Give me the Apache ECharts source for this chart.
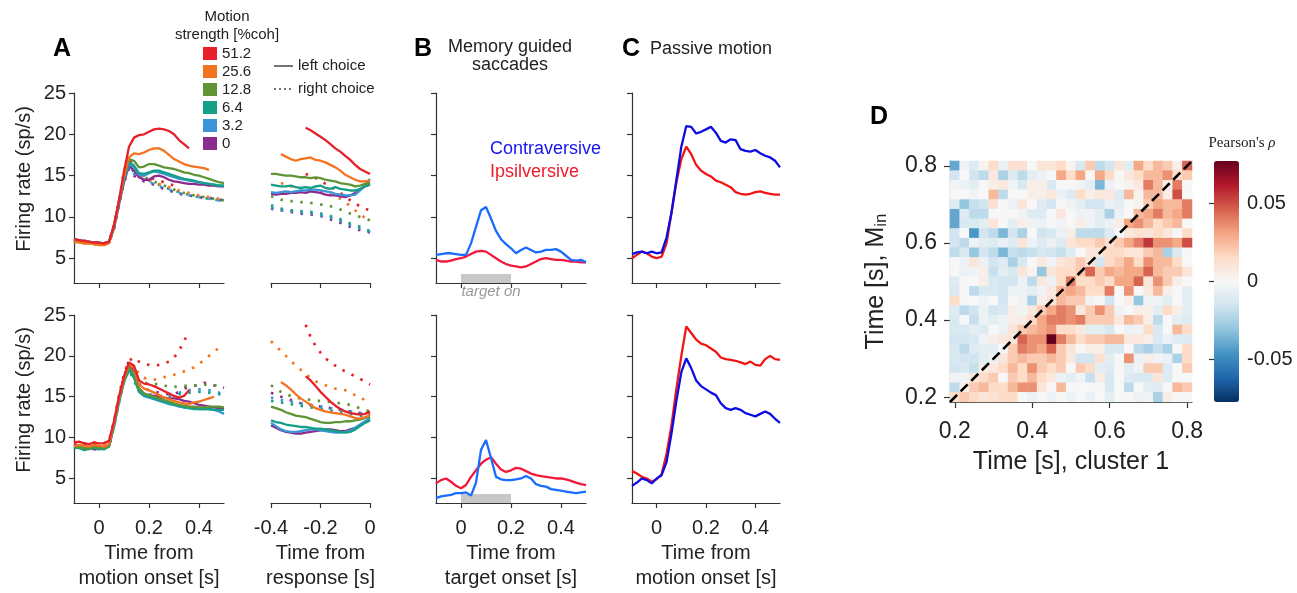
<!DOCTYPE html>
<html>
<head>
<meta charset="utf-8">
<script src="https://cdn.jsdelivr.net/npm/echarts@6/dist/echarts.min.js"></script>
<style>html,body{margin:0;background:#fff}#chart{width:1297px;height:593px}</style>
</head>
<body>
<div id="chart"></div>
<script>
// time bases (s)
const tEvent = [-0.1,-0.08,-0.06,-0.04,-0.02,0,0.02,0.04,0.06,0.08,0.1,0.12,0.14,0.16,0.18,0.2,0.22,0.24,0.26,0.28,0.3,0.32,0.34,0.36,0.38,0.4,0.42,0.44,0.46,0.48,0.5];
const tResp = [-0.4,-0.38,-0.36,-0.34,-0.32,-0.3,-0.28,-0.26,-0.24,-0.22,-0.2,-0.18,-0.16,-0.14,-0.12,-0.1,-0.08,-0.06,-0.04,-0.02,0];
const rateTicks = [5,10,15,20,25];
const motionTicks = [0,0.2,0.4];
const respTicks = [-0.4,-0.2,0];

const cohLabels = ['51.2','25.6','12.8','6.4','3.2','0'];
const cohColors = ['#e8202a','#f47321','#5f9537','#13a086','#3a96d8','#8b2b8e'];

// panel A, top row, motion aligned (order = cohLabels)
const topMotionLeft = [
  [7.3,7.2,7.1,7.0,6.9,6.9,6.8,7.0,9.0,12.0,15.5,18.5,19.6,19.9,20.0,20.3,20.6,20.7,20.6,20.4,20.0,19.3,18.8,18.3,null,null,null,null,null,null,null],
  [7.0,6.9,6.8,6.8,6.7,6.6,6.6,6.8,9.0,12.0,15.0,17.2,17.7,17.6,17.8,18.1,18.3,18.3,18.0,17.5,17.0,16.7,16.4,16.2,16.1,16.0,15.9,15.7,null,null,null],
  [7.1,7.0,6.9,6.8,6.8,6.8,6.8,6.9,8.8,12.0,14.8,17.0,16.8,16.0,16.1,16.4,16.4,16.2,16.0,15.9,15.8,15.6,15.4,15.3,15.1,15.0,14.8,14.6,14.4,14.2,14.1],
  [7.2,7.1,7.0,6.9,6.8,6.8,6.8,6.9,8.8,11.8,14.6,16.7,16.2,15.3,15.2,15.4,15.6,15.6,15.4,15.2,15.0,14.8,14.6,14.5,14.4,14.2,14.1,14.0,13.9,13.8,13.8],
  [7.3,7.2,7.1,7.0,6.9,6.9,6.8,7.0,8.9,11.8,14.5,16.4,16.0,15.1,15.0,15.3,15.5,15.4,15.2,15.0,14.8,14.6,14.5,14.4,14.3,14.2,14.1,14.0,13.9,13.8,13.7],
  [7.2,7.1,7.0,6.9,6.8,6.8,6.7,6.9,8.6,11.5,14.2,16.2,15.6,14.8,14.5,14.5,14.9,15.0,14.8,14.5,14.3,14.2,14.1,14.0,14.0,13.9,13.9,13.8,13.8,13.7,13.7]
];
const topMotionRight = [
  [7.3,7.2,7.1,7.0,6.9,6.9,6.8,7.0,9.0,12.0,15.5,17.5,15.8,15.3,15.0,14.8,14.6,14.4,14.2,14.0,13.8,13.5,null,null,null,null,null,null,null,null,null],
  [7.0,6.9,6.8,6.8,6.7,6.6,6.6,6.8,9.0,12.0,15.0,16.8,15.6,15.0,14.7,14.5,14.3,14.0,13.8,13.6,13.4,13.2,13.0,12.9,12.7,12.6,12.5,12.4,12.3,12.2,12.2],
  [7.1,7.0,6.9,6.8,6.8,6.8,6.8,6.9,8.8,12.0,14.8,16.5,15.6,15.0,14.8,14.6,14.3,14.0,13.8,13.6,13.3,13.1,12.9,12.8,12.6,12.5,12.4,12.3,12.2,12.1,12.0],
  [7.2,7.1,7.0,6.9,6.8,6.8,6.8,6.9,8.8,11.8,14.6,16.2,15.4,14.9,14.6,14.4,14.1,13.9,13.6,13.4,13.2,13.0,12.8,12.7,12.5,12.4,12.3,12.2,12.1,12.0,12.0],
  [7.3,7.2,7.1,7.0,6.9,6.9,6.8,7.0,8.9,11.8,14.5,16.0,15.2,14.8,14.5,14.2,14.0,13.7,13.5,13.3,13.1,12.9,12.7,12.6,12.5,12.4,12.3,12.2,12.1,12.0,11.9],
  [7.2,7.1,7.0,6.9,6.8,6.8,6.7,6.9,8.6,11.5,14.2,15.8,15.0,14.6,14.3,14.1,13.9,13.6,13.4,13.2,13.0,12.8,12.7,12.6,12.5,12.4,12.3,12.3,12.2,12.1,12.0]
];
// panel A, top row, response aligned
const topRespLeft = [
  [null,null,null,null,null,null,null,20.8,20.5,20.1,19.7,19.3,18.8,18.3,17.9,17.4,16.9,16.3,15.8,15.5,15.2],
  [null,null,17.6,17.3,17.0,16.8,17.0,17.1,17.2,16.9,16.8,16.6,16.3,16.0,15.6,15.1,14.8,14.5,14.3,14.3,14.4],
  [15.2,15.2,15.1,15.0,15.0,14.9,14.8,14.8,14.7,14.8,14.7,14.5,14.4,14.3,14.1,14.0,13.9,13.7,13.8,14.0,14.2],
  [13.9,13.8,13.7,13.7,13.8,13.6,13.5,13.6,13.5,13.7,13.8,13.5,13.4,13.6,13.4,13.3,13.2,13.2,13.4,13.7,14.0],
  [13.0,12.9,13.0,13.1,13.0,13.1,13.2,13.2,13.3,13.3,13.2,13.1,13.0,12.8,12.7,12.6,12.6,12.7,13.2,13.9,14.6],
  [12.8,12.7,12.8,12.8,12.9,12.9,13.0,12.9,13.1,13.0,12.9,12.7,12.6,12.6,12.5,12.4,12.6,12.9,13.3,13.7,13.9]
];
const topRespRight = [
  [null,null,null,null,null,null,null,15.2,15.0,14.7,14.4,14.0,13.7,13.3,12.9,12.5,12.0,11.6,11.3,11.0,10.8],
  [null,null,14.1,13.9,13.7,13.6,13.5,13.4,13.3,13.1,13.0,12.9,12.7,12.5,12.2,11.8,11.3,10.8,10.3,9.9,9.5],
  [12.5,12.3,12.1,12.0,11.9,11.9,11.8,11.8,11.7,11.6,11.5,11.4,11.3,11.1,10.9,10.7,10.4,10.2,10.0,9.8,9.6],
  [11.4,11.2,11.0,10.9,10.8,10.8,10.7,10.6,10.6,10.5,10.4,10.3,10.1,9.9,9.7,9.5,9.2,9.0,8.8,8.5,8.3],
  [11.1,10.9,10.8,10.7,10.7,10.6,10.5,10.4,10.4,10.3,10.2,10.0,9.9,9.7,9.5,9.3,9.0,8.8,8.6,8.4,8.2],
  [11.0,10.9,10.8,10.7,10.6,10.5,10.4,10.3,10.3,10.2,10.1,9.9,9.7,9.5,9.3,9.0,8.8,8.6,8.4,8.3,8.1]
];
// panel A, bottom row
const botMotionLeft = [
  [9.4,9.5,9.3,9.2,9.4,9.3,9.3,9.6,12.0,15.0,17.5,19.2,18.8,17.0,16.6,16.5,16.3,16.0,15.7,15.4,15.1,14.9,15.1,15.8,null,null,null,null,null,null,null],
  [9.0,9.1,9.0,8.9,9.1,9.0,8.9,9.2,11.8,14.8,17.3,19.0,18.5,16.5,16.0,15.8,15.5,15.2,14.9,14.7,14.5,14.3,14.2,14.1,14.3,14.4,14.6,14.8,15.0,null,null],
  [8.9,8.8,8.7,8.7,8.8,8.8,8.7,9.0,11.6,14.6,17.0,18.6,17.8,16.0,15.4,15.2,15.0,14.8,14.6,14.4,14.2,14.0,13.9,13.8,13.8,13.7,13.7,13.8,13.8,13.8,13.7],
  [8.8,8.7,8.5,8.6,8.7,8.6,8.6,8.9,11.5,14.5,16.8,18.3,17.3,15.6,15.1,15.0,14.8,14.6,14.4,14.2,14.0,13.9,13.7,13.6,13.5,13.5,13.5,13.5,13.4,13.4,13.4],
  [9.0,8.9,8.8,8.8,8.9,8.8,8.7,8.9,11.3,14.3,16.9,18.4,17.5,15.7,15.1,14.9,14.7,14.5,14.3,14.1,14.0,13.8,13.7,13.6,13.6,13.5,13.5,13.5,13.4,13.2,12.9],
  [9.2,9.0,8.9,8.8,8.6,8.6,8.7,9.0,11.7,14.8,17.4,19.0,18.0,16.0,15.4,15.2,15.1,15.0,14.9,14.8,14.8,14.7,14.5,14.4,14.2,14.0,13.9,13.8,13.7,13.6,13.5]
];
const botMotionRight = [
  [9.4,9.5,9.3,9.2,9.4,9.3,9.3,9.6,12.0,15.2,17.8,19.4,19.8,19.3,19.0,18.9,18.8,18.9,19.1,19.3,19.8,20.6,21.8,23.0,null,null,null,null,null,null,null],
  [9.0,9.1,9.0,8.9,9.1,9.0,8.9,9.2,11.8,14.8,17.3,19.0,18.8,17.8,17.3,17.2,17.1,17.2,17.4,17.5,17.7,17.9,18.1,18.3,18.6,19.0,19.5,20.0,20.5,21.0,null],
  [8.9,8.8,8.7,8.7,8.8,8.8,8.7,9.0,11.6,14.6,17.0,18.6,17.8,17.0,16.7,16.6,16.5,16.6,16.4,16.2,16.2,16.3,16.3,16.4,16.4,16.4,16.5,16.4,16.4,16.4,16.3],
  [8.8,8.7,8.5,8.6,8.7,8.6,8.6,8.9,11.5,14.5,16.8,18.3,17.0,15.7,15.3,15.1,15.0,15.0,15.0,15.1,15.2,15.3,15.4,15.5,15.5,15.6,15.6,15.5,15.4,15.3,15.2],
  [9.0,8.9,8.8,8.8,8.9,8.8,8.7,8.9,11.3,14.3,16.9,18.4,17.2,15.9,15.5,15.3,15.2,15.1,15.2,15.3,15.4,15.5,15.6,15.8,15.8,15.9,15.9,15.8,15.7,15.5,15.2],
  [9.2,9.0,8.9,8.8,8.6,8.6,8.7,9.0,11.7,14.8,17.4,19.5,18.2,16.6,16.0,15.8,15.6,15.5,15.4,15.3,15.3,15.6,16.0,16.2,16.3,16.5,16.7,16.6,16.4,16.3,16.1]
];
const botRespLeft = [
  [null,null,null,null,null,null,null,17.5,17.0,16.3,15.6,15.0,14.4,13.9,13.5,13.2,13.0,12.9,12.8,12.9,13.2],
  [null,null,16.8,16.4,15.9,15.3,14.8,14.4,14.0,13.6,13.4,13.2,13.1,13.0,12.9,12.8,12.6,12.4,12.3,12.5,12.8],
  [13.8,13.6,13.4,13.1,12.9,12.7,12.6,12.5,12.3,12.1,11.9,11.8,11.8,11.9,11.9,12.0,12.0,12.1,12.2,12.4,12.6],
  [12.1,11.9,11.8,11.6,11.5,11.4,11.3,11.3,11.2,11.1,11.1,11.0,10.9,10.8,10.7,10.6,10.7,11.0,11.4,11.8,12.1],
  [11.8,11.4,11.0,10.8,10.7,10.7,10.8,10.9,11.0,11.0,10.9,10.8,10.7,10.6,10.6,10.7,10.9,11.2,11.6,12.0,12.4],
  [11.5,11.2,10.9,10.7,10.6,10.5,10.5,10.6,10.7,10.8,10.9,11.0,11.0,10.9,10.8,10.8,11.0,11.2,11.5,11.9,12.2]
];
const botRespRight = [
  [null,null,null,null,null,null,null,23.8,22.3,21.2,20.4,19.7,19.2,18.8,18.4,18.1,17.8,17.5,17.2,16.8,16.5],
  [21.8,21.2,20.6,20.0,19.4,18.8,18.3,17.8,17.3,16.9,16.6,16.4,16.2,16.0,15.9,15.8,15.5,15.2,14.9,14.6,14.3],
  [16.4,16.0,15.6,15.3,15.1,14.9,14.8,14.7,14.6,14.5,14.5,14.4,14.4,14.3,14.2,14.1,14.0,13.8,13.6,13.4,13.2],
  [14.5,14.4,14.3,14.2,14.1,14.0,13.9,13.8,13.7,13.6,13.5,13.4,13.3,13.2,13.1,13.0,12.9,12.8,12.7,12.7,12.6],
  [14.9,14.7,14.6,14.5,14.4,14.3,14.2,14.1,14.0,13.9,13.8,13.7,13.6,13.5,13.4,13.3,13.2,13.1,13.0,12.9,12.8],
  [15.5,15.2,15.0,14.8,14.6,14.4,14.2,14.1,14.0,13.9,13.8,13.7,13.6,13.5,13.4,13.3,13.2,13.1,13.0,12.9,12.9]
];

// panel B (memory guided saccades) and C (passive motion)
const memContraTop = [5.4,5.5,5.6,5.6,5.5,5.4,5.4,6.8,8.8,10.8,11.2,9.8,8.3,7.3,6.7,6.2,5.6,6.0,6.3,6.0,5.7,5.8,6.0,6.0,6.1,5.8,5.3,4.8,4.7,4.8,4.5];
const memIpsiTop   = [4.8,4.6,4.6,4.7,4.9,5.0,5.2,5.5,5.8,5.9,5.8,5.4,5.0,4.6,4.3,4.1,4.0,3.9,4.0,4.3,4.6,4.9,5.0,4.9,4.8,4.8,4.7,4.6,4.6,4.5,4.5];
const memContraBot = [2.6,2.8,2.9,3.0,3.2,3.2,3.3,2.9,4.5,8.5,9.7,7.5,5.2,4.9,4.8,4.8,4.9,5.0,5.3,5.0,4.3,4.1,4.0,3.7,3.6,3.5,3.4,3.3,3.2,3.3,3.4];
const memIpsiBot   = [4.4,4.8,5.0,4.6,4.1,3.8,4.2,5.2,6.0,6.8,7.3,7.6,6.8,6.1,5.8,6.0,6.3,6.2,5.9,5.6,5.4,5.3,5.2,5.1,5.0,5.0,4.9,4.7,4.5,4.3,4.2];
const pasContraTop = [5.5,5.7,5.8,5.6,5.8,5.6,5.7,7.5,10.5,14.5,18.5,21.0,20.9,20.1,20.3,20.6,20.9,20.2,19.2,19.0,19.4,19.3,18.2,18.0,17.9,18.1,17.7,17.4,17.2,16.8,16.0];
const pasIpsiTop   = [5.0,5.4,5.8,5.6,5.2,5.0,5.2,6.8,10.5,14.2,17.0,18.5,17.6,16.3,15.6,15.2,14.9,14.4,14.2,13.9,13.6,13.0,12.8,12.7,12.8,13.0,13.1,12.9,12.8,12.7,12.7];
const pasContraBot = [4.1,4.5,5.0,4.8,4.4,5.0,5.4,7.0,10.5,14.5,18.0,19.7,18.5,17.0,16.3,15.9,15.5,15.2,14.2,13.6,13.4,13.6,13.4,13.0,12.8,12.6,12.9,13.2,12.9,12.3,11.8];
const pasIpsiBot   = [5.9,5.6,5.2,5.0,4.6,4.9,5.5,8.0,11.5,16.0,20.0,23.6,22.8,22.0,21.5,21.3,20.9,20.5,19.8,19.6,19.5,19.4,19.2,19.0,19.3,18.9,18.8,19.6,20.0,19.6,19.5];
const targetOn = [0, 0.2];       // target presentation window (s)
const targetBar = [2, 3.1];      // drawn height of the grey bar (sp/s)

// panel D, correlation map, rows listed from 0.8 (top) down to 0.2
const heatTimes = [0.2,0.225,0.25,0.275,0.3,0.325,0.35,0.375,0.4,0.425,0.45,0.475,0.5,0.525,0.55,0.575,0.6,0.625,0.65,0.675,0.7,0.725,0.75,0.775,0.8];
const rho = [
  [-0.04,-0.003,-0.01,0.002,0.015,-0.005,0.012,0.012,0,0.01,0.01,0.015,0.002,-0.012,0.02,-0.02,-0.015,0.01,-0.008,0.03,0.015,0.025,0.02,0.005,0.045],
  [-0.015,0,-0.015,-0.02,0.008,-0.025,-0.01,-0.02,-0.008,-0.005,0,0.03,0.015,0.03,0,0.03,0.015,0,0.008,0.015,0.025,0.025,0.035,0.015,0.02],
  [-0.003,-0.005,-0.008,0,0.005,0.008,-0.003,-0.012,0.005,0.005,-0.012,0,0,-0.003,-0.008,-0.035,-0.005,0,0.003,0.008,0.04,0.025,0.005,0.04,0],
  [0,0,-0.003,0,0.025,-0.02,0,0,0.005,0.005,0.008,-0.005,-0.01,0.015,0.005,0.008,0.008,-0.01,0.025,0.003,0.025,0.025,0.005,0.05,0],
  [-0.01,-0.03,-0.018,-0.015,0.012,0,-0.005,0.01,0,-0.01,-0.015,0,-0.003,-0.008,-0.015,-0.015,-0.005,-0.008,0,0.003,0.02,0.03,0.025,0.025,0.04],
  [-0.04,-0.01,-0.02,-0.02,0,0,0,-0.003,-0.01,-0.01,0,0.008,0,-0.005,-0.003,-0.008,-0.025,-0.005,0,0.025,0.03,0.04,0.025,0.03,0.04],
  [-0.04,-0.012,-0.012,-0.008,0.01,0,-0.008,0.005,-0.003,-0.005,0,-0.003,0,0.005,-0.003,-0.008,-0.005,0.005,0.03,0.035,0.025,0.015,0.02,0.025,0],
  [-0.015,0,-0.045,-0.015,-0.02,-0.035,-0.015,-0.025,0,-0.015,-0.012,-0.005,0.005,-0.02,-0.02,-0.02,-0.01,0,0.008,0.012,0.01,0.015,0.008,0,0.015],
  [-0.015,-0.02,-0.003,-0.008,-0.01,-0.005,-0.01,0.01,-0.003,-0.01,-0.005,-0.01,0.01,0.015,0.015,0.02,0.012,0.02,0.03,0.04,0.055,0.035,0.035,0.03,0.05],
  [-0.02,-0.012,-0.03,-0.015,-0.02,-0.035,-0.018,-0.02,-0.018,-0.012,-0.015,-0.018,-0.01,0,0.008,0.01,0.015,0.015,0.01,0.01,0.02,0.025,-0.025,-0.01,0],
  [0,-0.005,0.01,-0.005,-0.015,-0.01,-0.025,-0.012,0,0.008,-0.003,0.01,0.012,0.02,0.01,-0.015,0.015,0.02,0.03,0.015,0.035,0.025,0.025,0.015,0],
  [0,-0.005,-0.003,0.005,-0.018,-0.008,-0.012,0.01,0.003,-0.03,0.01,0.015,0.015,0.02,0.045,0.02,0.03,0.025,0.03,0.03,0.045,0.025,0.02,0.02,0.01],
  [-0.01,0,0,0.005,-0.012,-0.015,-0.015,-0.005,-0.02,0.008,-0.005,0.015,0.04,0.015,0.015,0.02,0.015,0.03,0.03,0.045,0.01,0.035,0.02,0.005,0],
  [-0.012,0,-0.02,-0.012,-0.012,-0.015,-0.005,-0.005,-0.008,-0.003,0.008,0.025,0.03,0.025,0.015,0.015,0.04,0,0.035,0,0.008,0.025,0.005,0,-0.008],
  [0.015,0,0,-0.003,0,-0.015,0,-0.003,-0.025,0.005,0.01,0.025,0.02,0.02,-0.003,0,-0.015,0,0.005,-0.03,-0.003,-0.003,-0.008,0,-0.008],
  [-0.01,-0.02,-0.015,-0.005,-0.015,-0.012,0.005,-0.002,0.008,0.02,0.03,0.04,0.035,0.008,0.02,0.035,0.02,-0.003,0,0.005,0.005,-0.008,0.015,0.005,-0.008],
  [-0.012,0,-0.018,-0.005,-0.008,-0.005,0.005,0.005,0.015,0.03,0.04,0.04,0.035,0.04,0.02,0.02,0.02,0.008,0.025,0.02,0.005,-0.02,0,-0.008,-0.01],
  [-0.012,-0.012,-0.008,-0.01,0,-0.005,0.01,0.02,0.025,0.03,0.035,0.015,0.015,0.008,-0.008,-0.008,-0.012,0,-0.005,-0.003,0.015,-0.012,0,0.025,0.015],
  [-0.015,-0.015,-0.012,-0.003,0.005,0.008,0.01,0.045,0.035,0.035,0.077,0.04,0.025,0.015,0.02,0.02,0.025,0.025,0.008,0.008,0.005,-0.012,-0.005,-0.01,-0.01],
  [-0.012,-0.02,-0.01,-0.008,-0.008,0,0.02,0.04,0.035,0.03,0.045,0.02,0.01,0,0.005,0.005,-0.012,-0.012,0,-0.02,-0.025,-0.018,-0.025,0,0.015],
  [-0.012,-0.015,-0.015,-0.008,-0.005,0.01,0.02,0.025,0.02,0.02,0.025,0.02,0.008,-0.015,-0.015,0.012,-0.008,0,0.035,-0.005,0.005,-0.003,-0.005,-0.025,0.015],
  [-0.015,-0.012,-0.018,0.005,0.008,0.015,0.025,0.015,0.035,0.02,0.015,0.02,0,0.02,0.015,-0.008,-0.01,0,-0.008,-0.003,0.02,0.02,-0.01,0,0.02],
  [-0.003,-0.003,0.01,0.015,0.02,0,0.02,0.015,0.025,0.015,0.008,-0.005,-0.008,-0.003,-0.018,0.005,-0.012,0,-0.01,-0.012,-0.012,0.01,-0.01,0,0],
  [-0.02,0.005,0.02,0.025,0.015,0.015,0.025,0.035,0.035,0.01,0,0.025,0,0,0,0,-0.012,0,-0.02,0,-0.008,-0.01,0,0.025,0.02],
  [0.015,0.02,0.015,0.01,0.012,0.015,0.015,0,-0.005,0,-0.005,0,-0.005,0,-0.005,0,-0.008,0,0,-0.005,-0.003,-0.025,0.005,0,0]
];
const rhoRange = [-0.077, 0.077];
const rhoTicks = [-0.05, 0, 0.05];
const diagonal = [0.1875, 0.8125];
const rdbu = ['#053061','#2166ac','#4393c3','#92c5de','#d1e5f0','#f7f7f7','#fddbc7','#f4a582','#d6604d','#b2182b','#67001f'];

const FONT = "'Liberation Sans', Arial, sans-serif";
const INK = '#222';
const axisColor = '#333';
const fmt = v => v === 0 ? '0' : String(+v.toFixed(2));

const grids = [], xAxes = [], yAxes = [], series = [];

function panel(left, top, width, o) {
  const i = grids.length;
  grids.push({left: left, top: top, width: width, height: o.h});
  xAxes.push({
    gridIndex: i, type: 'value', min: o.xmin, max: o.xmax,
    axisLine: {show: true, onZero: false, lineStyle: {color: axisColor, width: 1.2}},
    axisTick: {show: true, length: 5, customValues: o.xticks, lineStyle: {color: axisColor, width: 1.2}},
    axisLabel: {show: !!o.xName, customValues: o.xticks, formatter: fmt, fontSize: 20, color: INK, fontFamily: FONT, margin: 15},
    splitLine: {show: false},
    name: o.xName || '', nameLocation: 'middle', nameGap: 38,
    nameTextStyle: {fontSize: 20, lineHeight: 25, color: INK, fontFamily: FONT}
  });
  yAxes.push({
    gridIndex: i, type: 'value', min: 2, max: 25,
    axisLine: {show: o.yLine, onZero: false, lineStyle: {color: axisColor, width: 1.2}},
    axisTick: {show: o.yLine, length: 5, customValues: rateTicks, lineStyle: {color: axisColor, width: 1.2}},
    axisLabel: {show: !!o.yName, customValues: rateTicks, fontSize: 20, color: INK, fontFamily: FONT, margin: 8},
    splitLine: {show: false},
    name: o.yName || '', nameLocation: 'middle', nameGap: 40,
    nameTextStyle: {fontSize: 20, color: INK, fontFamily: FONT, padding: [0, 0, 0, 18]}
  });
  return i;
}

function pairs(ts, vals) {
  return ts.map((t, j) => [t, vals[j] == null ? '-' : vals[j]]);
}

function cohLines(gi, ts, sets, dotted) {
  for (let k = sets.length - 1; k >= 0; k--) {
    series.push({
      type: 'line', name: cohLabels[k], xAxisIndex: gi, yAxisIndex: gi,
      data: pairs(ts, sets[k]), symbol: 'none', z: dotted ? 2 : 3,
      itemStyle: {color: cohColors[k]},
      lineStyle: {color: cohColors[k], width: dotted ? 2.7 : 2.3, type: dotted ? [2.5, 7.5] : 'solid'}
    });
  }
}

function pairLines(gi, contra, ipsi, cColor, iColor, bar) {
  const s = {
    type: 'line', name: 'Ipsilversive', xAxisIndex: gi, yAxisIndex: gi,
    data: pairs(tEvent, ipsi), symbol: 'none',
    itemStyle: {color: iColor}, lineStyle: {color: iColor, width: 2.3}
  };
  if (bar) {
    s.markArea = {silent: true, itemStyle: {color: '#c8c8c8'},
      data: [[{coord: [targetOn[0], targetBar[0]]}, {coord: [targetOn[1], targetBar[1]]}]]};
  }
  series.push(s);
  series.push({
    type: 'line', name: 'Contraversive', xAxisIndex: gi, yAxisIndex: gi,
    data: pairs(tEvent, contra), symbol: 'none',
    itemStyle: {color: cColor}, lineStyle: {color: cColor, width: 2.3}
  });
}

const rowTop = 93, rowBot = 315, hTop = 190, hBot = 188;
const motionX = {xmin: -0.1, xmax: 0.5, xticks: motionTicks};
const respX = {xmin: -0.4, xmax: 0, xticks: respTicks};

const gA1 = panel(74, rowTop, 150, Object.assign({h: hTop, yLine: true, yName: 'Firing rate (sp/s)'}, motionX));
const gA2 = panel(271, rowTop, 99, Object.assign({h: hTop, yLine: false}, respX));
const gB1 = panel(436, rowTop, 150, Object.assign({h: hTop, yLine: true}, motionX));
const gC1 = panel(632, rowTop, 148, Object.assign({h: hTop, yLine: true}, motionX));
const gA3 = panel(74, rowBot, 150, Object.assign({h: hBot, yLine: true, yName: 'Firing rate (sp/s)', xName: 'Time from\nmotion onset [s]'}, motionX));
const gA4 = panel(271, rowBot, 99, Object.assign({h: hBot, yLine: false, xName: 'Time from\nresponse [s]'}, respX));
const gB2 = panel(436, rowBot, 150, Object.assign({h: hBot, yLine: true, xName: 'Time from\ntarget onset [s]'}, motionX));
const gC2 = panel(632, rowBot, 148, Object.assign({h: hBot, yLine: true, xName: 'Time from\nmotion onset [s]'}, motionX));

cohLines(gA1, tEvent, topMotionRight, true);
cohLines(gA1, tEvent, topMotionLeft, false);
cohLines(gA2, tResp, topRespRight, true);
cohLines(gA2, tResp, topRespLeft, false);
cohLines(gA3, tEvent, botMotionRight, true);
cohLines(gA3, tEvent, botMotionLeft, false);
cohLines(gA4, tResp, botRespRight, true);
cohLines(gA4, tResp, botRespLeft, false);

pairLines(gB1, memContraTop, memIpsiTop, '#1a6cff', '#f2183c', true);
pairLines(gB2, memContraBot, memIpsiBot, '#1a6cff', '#f2183c', true);
pairLines(gC1, pasContraTop, pasIpsiTop, '#0c0ce6', '#f21414', false);
pairLines(gC2, pasContraBot, pasIpsiBot, '#0c0ce6', '#f21414', false);

// panel D heatmap
const gD = grids.length;
grids.push({left: 950, top: 161, width: 242, height: 241});
const catAxis = {
  type: 'category', gridIndex: gD, data: heatTimes.map(String),
  axisLine: {show: true, lineStyle: {color: axisColor, width: 1.2}},
  axisTick: {show: true, alignWithLabel: true, interval: 7, length: 6, lineStyle: {color: axisColor, width: 1.2}},
  axisLabel: {interval: 7, formatter: v => (+v).toFixed(1), fontSize: 23, color: INK, fontFamily: FONT},
  splitLine: {show: false}, nameLocation: 'middle'
};
xAxes.push(Object.assign({}, catAxis, {
  name: 'Time [s], cluster 1', nameGap: 48,
  axisLabel: Object.assign({}, catAxis.axisLabel, {margin: 18}),
  nameTextStyle: {fontSize: 25, color: INK, fontFamily: FONT}
}));
yAxes.push(Object.assign({}, catAxis, {
  name: 'Time [s], M{sub|in}', nameGap: 60,
  axisLabel: Object.assign({}, catAxis.axisLabel, {margin: 13}),
  nameTextStyle: {fontSize: 25, color: INK, fontFamily: FONT,
    rich: {sub: {fontSize: 17, fontFamily: FONT, color: INK, verticalAlign: 'bottom', padding: [10, 0, 0, 0]}}}
}));
const heatData = [];
rho.forEach((row, r) => row.forEach((v, c) => heatData.push([c, heatTimes.length - 1 - r, v])));
const heatIdx = series.length;
series.push({type: 'heatmap', xAxisIndex: gD, yAxisIndex: gD, data: heatData, itemStyle: {borderWidth: 0}, z: 1});

// dashed identity line over the map
const gDiag = grids.length;
grids.push({left: 950, top: 161, width: 242, height: 241});
xAxes.push({type: 'value', gridIndex: gDiag, min: diagonal[0], max: diagonal[1], show: false});
yAxes.push({type: 'value', gridIndex: gDiag, min: diagonal[0], max: diagonal[1], show: false});
series.push({type: 'line', xAxisIndex: gDiag, yAxisIndex: gDiag, symbol: 'none', z: 5,
  data: [[diagonal[0], diagonal[0]], [diagonal[1], diagonal[1]]],
  lineStyle: {color: '#000', width: 2.6, type: [10, 5]}});

// colour bar scale
const gBar = grids.length;
grids.push({left: 1214, top: 161, width: 25, height: 241});
xAxes.push({type: 'value', gridIndex: gBar, show: false});
yAxes.push({type: 'value', gridIndex: gBar, min: rhoRange[0], max: rhoRange[1], position: 'right', z: 10,
  axisLine: {show: false},
  axisTick: {show: true, inside: true, length: 5, customValues: rhoTicks, lineStyle: {color: axisColor, width: 1.2}},
  axisLabel: {customValues: rhoTicks, formatter: fmt, fontSize: 20, color: INK, fontFamily: FONT, margin: 8},
  splitLine: {show: false}});

const txt = (text, x, y, extra) => ({type: 'text', x: x, y: y, silent: true,
  style: Object.assign({text: text, fontFamily: FONT, fontSize: 15, fill: INK, align: 'center', verticalAlign: 'middle'}, extra || {})});

const graphic = [
  txt('A', 62, 49, {fontSize: 25, fontWeight: 'bold', fill: '#000'}),
  txt('B', 423, 49, {fontSize: 25, fontWeight: 'bold', fill: '#000'}),
  txt('C', 631, 49, {fontSize: 25, fontWeight: 'bold', fill: '#000'}),
  txt('D', 879, 117, {fontSize: 25, fontWeight: 'bold', fill: '#000'}),
  txt('Motion', 227, 17),
  txt('strength [%coh]', 227, 35),
  {type: 'line', silent: true, shape: {x1: 274, y1: 66, x2: 293, y2: 66}, style: {stroke: '#444', lineWidth: 1.5}},
  txt('left choice', 298, 66, {align: 'left'}),
  {type: 'line', silent: true, shape: {x1: 274, y1: 89, x2: 293, y2: 89}, style: {stroke: '#444', lineWidth: 1.5, lineDash: [2, 3]}},
  txt('right choice', 298, 89, {align: 'left'}),
  txt('Memory guided', 510, 47, {fontSize: 18}),
  txt('saccades', 510, 65, {fontSize: 18}),
  txt('Passive motion', 711, 49, {fontSize: 18}),
  txt('Contraversive', 490, 149, {fontSize: 18, align: 'left', fill: '#1515f0'}),
  txt('Ipsilversive', 490, 172, {fontSize: 18, align: 'left', fill: '#f01a2a'}),
  txt('target on', 491, 292, {fontSize: 15, fontStyle: 'italic', fill: '#999'}),
  {type: 'text', x: 1242, y: 143, silent: true, style: {
    text: "{a|Pearson's }{b|ρ}", align: 'center', verticalAlign: 'middle',
    rich: {a: {fontFamily: "'Liberation Serif', 'DejaVu Serif', serif", fontSize: 15, fill: INK},
           b: {fontFamily: "'Liberation Serif', 'DejaVu Serif', serif", fontSize: 15, fontStyle: 'italic', fill: INK}}}}
];

const chart = echarts.init(document.getElementById('chart'));
chart.setOption({
  animation: false,
  backgroundColor: '#fff',
  textStyle: {fontFamily: FONT},
  grid: grids,
  xAxis: xAxes,
  yAxis: yAxes,
  legend: {
    data: cohLabels, orient: 'vertical', left: 203, top: 46, padding: 0,
    icon: 'rect', itemWidth: 14, itemHeight: 13, itemGap: 3, selectedMode: false,
    textStyle: {fontSize: 15, color: INK, fontFamily: FONT}
  },
  visualMap: {
    type: 'continuous', min: rhoRange[0], max: rhoRange[1], seriesIndex: heatIdx,
    orient: 'vertical', left: 1214, top: 161, itemWidth: 25, itemHeight: 241, padding: 0,
    calculable: false, hoverLink: false, inRange: {color: rdbu}
  },
  graphic: graphic,
  series: series
});
</script>
</body>
</html>
